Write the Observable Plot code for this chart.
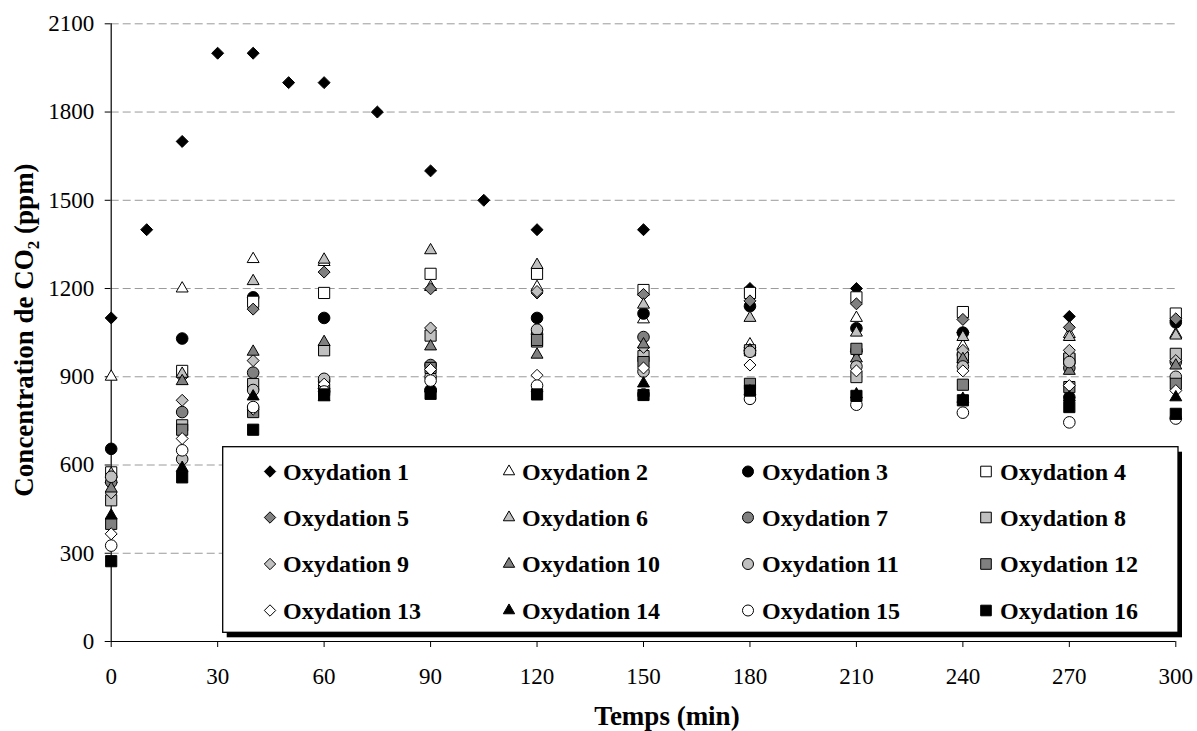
<!DOCTYPE html>
<html>
<head>
<meta charset="utf-8">
<script src="https://cdn.jsdelivr.net/npm/d3@7"></script>
<script src="https://cdn.jsdelivr.net/npm/@observablehq/plot@0.6"></script>
<style>
  html, body { margin: 0; padding: 0; background: #fff; }
  #chart { width: 1197px; height: 731px; }
</style>
</head>
<body>
<div id="chart"></div>
<script>
// ---------------- DATA ----------------
const timesOxy1 = [0, 10, 20, 30, 40, 50, 60, 75, 90, 105, 120, 150, 180, 210, 240, 270, 300];
const oxy1 = [1100, 1400, 1700, 2000, 2000, 1900, 1900, 1800, 1600, 1500, 1400, 1400, 1200, 1200, 1050, 1105, 1090];

const times = [0, 20, 40, 60, 90, 120, 150, 180, 210, 240, 270, 300];
const oxy2  = [900, 1200, 1300, 1290, 1205, 1205, 1095, 1010, 1100, 1005, 1045, 1045];
const oxy3  = [655, 1030, 1170, 1100, 855, 1100, 1115, 1140, 1065, 1050, 830, 1085];
const oxy4  = [575, 920, 1155, 1185, 1250, 1250, 1195, 1185, 1170, 1120, 960, 1115];
const oxy5  = [540, 900, 1130, 1256, 1199, 1185, 1180, 1158, 1148, 1095, 1068, 1097];
const oxy6  = [570, 910, 1225, 1298, 1330, 1280, 1145, 1100, 1050, 1035, 1035, 1040];
const oxy7  = [542, 780, 914, 885, 940, 1045, 1035, 990, 990, 975, 930, 950];
const oxy8  = [480, 735, 875, 990, 1040, 1020, 970, 990, 899, 965, 962, 978];
const oxy9  = [505, 820, 955, 860, 1066, 1190, 1000, 990, 985, 990, 990, 955];
const oxy10 = [520, 885, 985, 1018, 1003, 975, 1010, 990, 962, 960, 920, 938];
const oxy11 = [560, 620, 855, 893, 900, 1060, 918, 985, 935, 935, 950, 900];
const oxy12 = [400, 720, 780, 855, 930, 1025, 950, 876, 995, 873, 865, 876];
const oxy13 = [366, 690, 790, 875, 925, 905, 930, 940, 920, 920, 870, 853];
const oxy14 = [428, 590, 833, 830, 860, 860, 877, 850, 840, 825, 830, 830];
const oxy15 = [326, 650, 797, 850, 887, 870, 840, 825, 805, 778, 745, 758];
const oxy16 = [273, 558, 720, 840, 842, 840, 838, 853, 835, 820, 797, 774];

const seriesNames = [
  "Oxydation 1", "Oxydation 2", "Oxydation 3", "Oxydation 4",
  "Oxydation 5", "Oxydation 6", "Oxydation 7", "Oxydation 8",
  "Oxydation 9", "Oxydation 10", "Oxydation 11", "Oxydation 12",
  "Oxydation 13", "Oxydation 14", "Oxydation 15", "Oxydation 16"
];
const yTicks = [0, 300, 600, 900, 1200, 1500, 1800, 2100];
const xTicks = [0, 30, 60, 90, 120, 150, 180, 210, 240, 270, 300];
const xTitle = "Temps (min)";
const yTitleParts = ["Concentration de CO", "2", " (ppm)"];

// ---------------- STYLES ----------------
const DARK = "#808080", LIGHT = "#c0c0c0", BLACK = "#000", WHITE = "#fff";
const shapeCycle = ["diamond2", "triangle2", "circle", "square2"];
const fillList = [BLACK, WHITE, BLACK, WHITE, DARK, LIGHT, DARK, LIGHT,
                  LIGHT, DARK, LIGHT, DARK, WHITE, BLACK, WHITE, BLACK];
const radius = { diamond2: 5.4, triangle2: 5.7, circle: 5.8, square2: 7.1 };
const d3Symbols = { diamond2: d3.symbolDiamond2, triangle2: d3.symbolTriangle2, circle: d3.symbolCircle, square2: d3.symbolSquare2 };
const FONT = "'Liberation Serif', 'Times New Roman', serif";

const allValues = [oxy1, oxy2, oxy3, oxy4, oxy5, oxy6, oxy7, oxy8, oxy9, oxy10, oxy11, oxy12, oxy13, oxy14, oxy15, oxy16];
const seriesData = allValues.map((vals, i) => {
  const ts = i === 0 ? timesOxy1 : times;
  return vals.map((v, k) => ({ t: ts[k], v, series: seriesNames[i] }));
});

const dotMarks = seriesData.map((data, i) => {
  const shape = shapeCycle[i % 4];
  return Plot.dot(data, {
    x: "t", y: "v", symbol: shape, r: radius[shape],
    fill: fillList[i], stroke: BLACK, strokeWidth: 1
  });
});

const W = 1197, H = 731;
const svg = Plot.plot({
  width: W, height: H,
  marginLeft: 110.7, marginRight: 21.7, marginTop: 23.3, marginBottom: 90,
  style: { fontFamily: FONT, fontSize: "23px", background: "#fff", color: "#000" },
  x: { domain: [0, 300], ticks: xTicks, tickSize: 6, tickPadding: 20, tickFormat: d => String(d), label: null },
  y: { domain: [0, 2100], ticks: yTicks, tickSize: 6, tickPadding: 11, tickFormat: d => String(d), label: null },
  marks: [
    Plot.ruleY(yTicks.filter(d => d > 0), { stroke: "#9a9a9a", strokeWidth: 1, strokeDasharray: "8,4" }),
    Plot.ruleY([0], { stroke: BLACK, strokeWidth: 1.2 }),
    Plot.ruleX([0], { stroke: BLACK, strokeWidth: 1.2 }),
    ...dotMarks
  ]
});
document.getElementById("chart").appendChild(svg);

// ---------------- LEGEND & TITLES ----------------
const sel = d3.select(svg);
const lg = sel.append("g").attr("class", "legend").attr("text-anchor", "start");
const box = { x: 222.7, y: 446.7, w: 955.3, h: 185.6 };
lg.append("rect").attr("x", box.x + 4).attr("y", box.y + 5).attr("width", box.w).attr("height", box.h).attr("fill", BLACK);
lg.append("rect").attr("x", box.x).attr("y", box.y).attr("width", box.w).attr("height", box.h)
  .attr("fill", WHITE).attr("stroke", BLACK).attr("stroke-width", 1.3);

const colMarker = [270, 509, 748, 986];
const colText = [283, 522, 762, 1000];
const rowY = [471.5, 517.5, 564, 610.5];
seriesNames.forEach((name, i) => {
  const r = Math.floor(i / 4), c = i % 4;
  const shape = shapeCycle[i % 4];
  const rr = radius[shape] * 0.95;
  lg.append("path")
    .attr("d", d3.symbol(d3Symbols[shape], Math.PI * rr * rr)())
    .attr("transform", `translate(${colMarker[c]},${rowY[r]})`)
    .attr("fill", fillList[i]).attr("stroke", BLACK).attr("stroke-width", 1);
  lg.append("text")
    .attr("x", colText[c]).attr("y", rowY[r]).attr("dy", "0.35em")
    .attr("text-anchor", "start")
    .attr("font-family", FONT).attr("font-size", 24).attr("font-weight", "bold")
    .attr("fill", BLACK)
    .text(name);
});

sel.append("text")
  .attr("x", 667).attr("y", 725)
  .attr("text-anchor", "middle")
  .attr("font-family", FONT).attr("font-size", 27).attr("font-weight", "bold").attr("fill", BLACK)
  .text(xTitle);

const yt = sel.append("text")
  .attr("transform", "translate(33,330) rotate(-90)")
  .attr("text-anchor", "middle")
  .attr("font-family", FONT).attr("font-size", 27).attr("font-weight", "bold").attr("fill", BLACK);
yt.append("tspan").text(yTitleParts[0]);
yt.append("tspan").attr("dy", 6).attr("font-size", 17).text(yTitleParts[1]);
yt.append("tspan").attr("dy", -6).text(yTitleParts[2]);
</script>
</body>
</html>
